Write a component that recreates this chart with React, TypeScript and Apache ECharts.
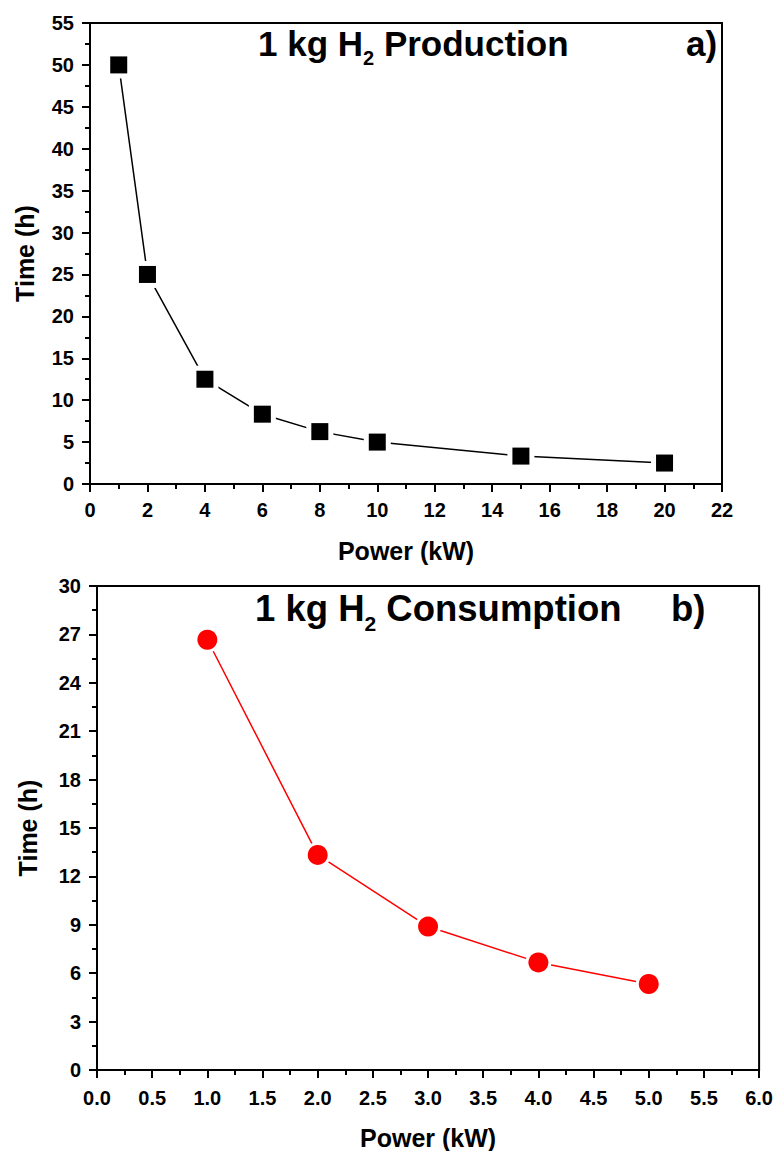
import React, { useEffect, useRef } from "react";
import * as echarts from "echarts";

const prodPower = [1, 2, 4, 6, 8, 10, 15, 20];
const prodTime = [50, 25, 12.5, 8.33, 6.25, 5, 3.33, 2.5];
const consPower = [1, 2, 3, 4, 5];
const consTime = [26.67, 13.33, 8.89, 6.67, 5.33];

const FONT = "'Liberation Sans', Arial, sans-serif";

const pairs = (xs: number[], ys: number[]) => xs.map((x, i) => [x, ys[i]]);

const makeRich = (size: number) => ({
  m: { fontSize: size, fontWeight: "bold", fontFamily: FONT, lineHeight: size, padding: [0, 0, 7, 0], verticalAlign: "bottom", color: "#000" },
  s: { fontSize: Math.round(size * 0.58), fontWeight: "bold", fontFamily: FONT, lineHeight: Math.round(size * 0.58), verticalAlign: "bottom", color: "#000" },
});
const richTop = makeRich(35);
const richBottom = makeRich(36.5);

function axisCommon(fontSize: number) {
  return {
    axisLine: { show: true, onZero: false, lineStyle: { color: "#000", width: 2 } },
    axisTick: { show: true, inside: false, length: 8, lineStyle: { color: "#000", width: 2 } },
    minorTick: { show: true, splitNumber: 2, length: 5, lineStyle: { color: "#000", width: 2 } },
    splitLine: { show: false },
    minorSplitLine: { show: false },
    axisLabel: { color: "#000", fontSize, fontWeight: "bold", fontFamily: FONT, margin: 16 },
    nameLocation: "middle",
    nameTextStyle: { color: "#000", fontSize: 25, fontWeight: "bold", fontFamily: FONT },
  };
}

export default function App() {
  const ref = useRef<HTMLDivElement>(null);
  useEffect(() => {
    document.body.style.margin = "0";
    const chart = echarts.init(ref.current!, undefined, { renderer: "svg" });
    chart.setOption({
      animation: false,
      backgroundColor: "#fff",
      grid: [
        { left: 90, right: 54, top: 23, bottom: 667, show: true, borderColor: "#000", borderWidth: 2 },
        { left: 97, right: 15, top: 586, bottom: 79, show: true, borderColor: "#000", borderWidth: 2 },
      ],
      xAxis: [
        { ...axisCommon(20), type: "value", gridIndex: 0, min: 0, max: 22, interval: 2, name: "Power (kW)", nameGap: 54 },
        {
          ...axisCommon(20), type: "value", gridIndex: 1, min: 0, max: 6, interval: 0.5, name: "Power (kW)", nameGap: 55,
          axisLabel: { ...axisCommon(20).axisLabel, margin: 18, formatter: (v: number) => v.toFixed(1) },
        },
      ],
      yAxis: [
        { ...axisCommon(20), type: "value", gridIndex: 0, min: 0, max: 55, interval: 5, name: "Time (h)", nameGap: 53 },
        { ...axisCommon(20), type: "value", gridIndex: 1, min: 0, max: 30, interval: 3, name: "Time (h)", nameGap: 57 },
      ],
      series: [
        { type: "line", xAxisIndex: 0, yAxisIndex: 0, data: pairs(prodPower, prodTime), symbol: "none", lineStyle: { color: "#000", width: 1.5 }, z: 2 },
        { type: "scatter", xAxisIndex: 0, yAxisIndex: 0, data: pairs(prodPower, prodTime), symbol: "rect", symbolSize: 27, itemStyle: { color: "#fff", opacity: 1 }, z: 3 },
        { type: "scatter", xAxisIndex: 0, yAxisIndex: 0, data: pairs(prodPower, prodTime), symbol: "rect", symbolSize: 17, itemStyle: { color: "#000", opacity: 1 }, z: 4 },
        { type: "line", xAxisIndex: 1, yAxisIndex: 1, data: pairs(consPower, consTime), symbol: "none", lineStyle: { color: "#ff0000", width: 1.5 }, z: 2 },
        { type: "scatter", xAxisIndex: 1, yAxisIndex: 1, data: pairs(consPower, consTime), symbol: "circle", symbolSize: 26, itemStyle: { color: "#fff", opacity: 1 }, z: 3 },
        { type: "scatter", xAxisIndex: 1, yAxisIndex: 1, data: pairs(consPower, consTime), symbol: "circle", symbolSize: 20, itemStyle: { color: "#ff0000", opacity: 1 }, z: 4 },
      ],
      graphic: [
        { type: "text", x: 258, y: 33, z: 10, style: { text: "{m|1 kg H}{s|2}{m| Production}", rich: richTop, verticalAlign: "top" } },
        { type: "text", x: 686, y: 33, z: 10, style: { text: "{m|a)}", rich: richTop, verticalAlign: "top" } },
        { type: "text", x: 255, y: 597, z: 10, style: { text: "{m|1 kg H}{s|2}{m| Consumption}", rich: richBottom, verticalAlign: "top" } },
        { type: "text", x: 671, y: 597, z: 10, style: { text: "{m|b)}", rich: richBottom, verticalAlign: "top" } },
      ],
    });
    return () => chart.dispose();
  }, []);
  return <div ref={ref} style={{ width: 776, height: 1151 }} />;
}
